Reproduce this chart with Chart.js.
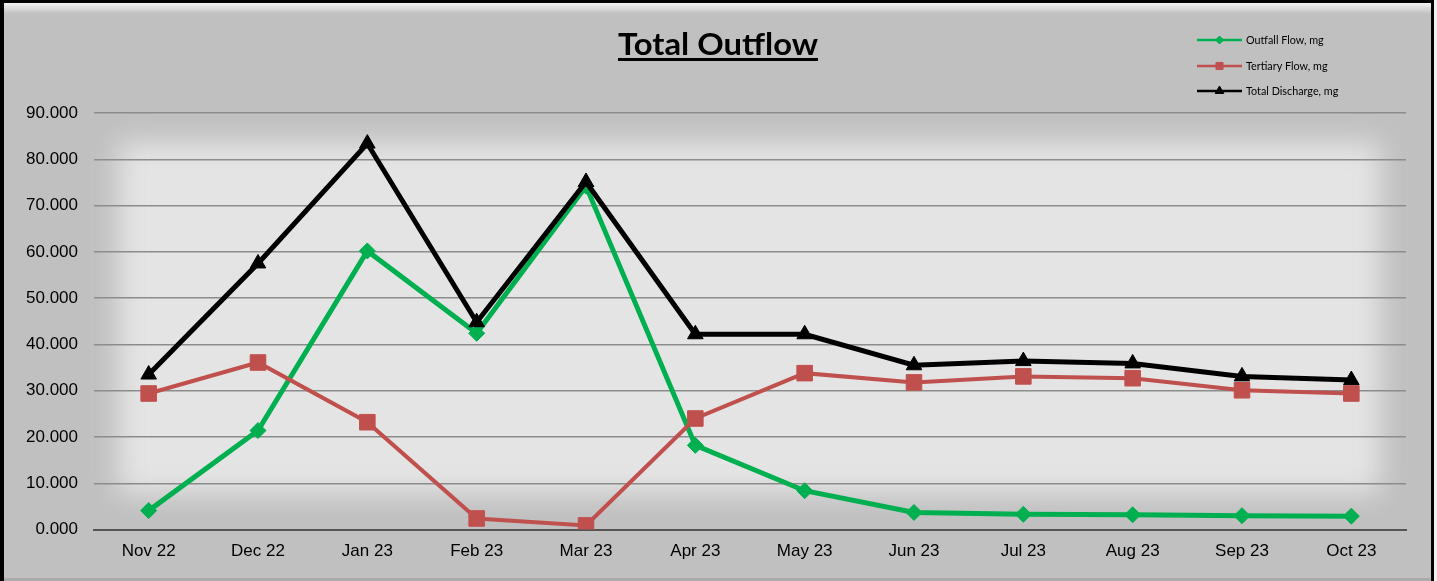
<!DOCTYPE html>
<html>
<head>
<meta charset="utf-8">
<title>Total Outflow</title>
<script src="https://cdn.jsdelivr.net/npm/chart.js@4/dist/chart.umd.min.js"></script>
<style>
  html, body { margin: 0; padding: 0; background: #c0c0c0; }
  #wrap { width: 1437px; height: 581px; position: relative; }
</style>
</head>
<body>
<div id="wrap"><canvas id="outflow-chart" width="1437" height="581"></canvas></div>
<script>
const months = ['Nov 22', 'Dec 22', 'Jan 23', 'Feb 23', 'Mar 23', 'Apr 23',
  'May 23', 'Jun 23', 'Jul 23', 'Aug 23', 'Sep 23', 'Oct 23'];
const outfallFlow = [4.1, 21.4, 60.2, 42.4, 74.2, 18.2, 8.4, 3.7, 3.3, 3.2, 3.0, 2.9];
const tertiaryFlow = [29.4, 36.1, 23.2, 2.4, 0.9, 24.0, 33.8, 31.8, 33.1, 32.7, 30.1, 29.4];
const totalDischarge = [33.5, 57.5, 83.4, 44.8, 75.1, 42.2, 42.2, 35.5, 36.4, 35.9, 33.1, 32.3];
const seriesNames = ['Outfall Flow, mg', 'Tertiary Flow, mg', 'Total Discharge, mg'];
const yTicks = [0, 10, 20, 30, 40, 50, 60, 70, 80, 90];

const GREEN = '#00b050';
const RED = '#c0504d';
const BLACK = '#000000';

// panel: grey frame, soft light plot backdrop, black edges
const panelBackground = {
  id: 'panelBackground',
  beforeDraw(chart) {
    const { ctx, width, height } = chart;
    ctx.save();
    ctx.fillStyle = '#c0c0c0';
    ctx.fillRect(0, 0, width, height);

    ctx.filter = 'blur(14px)';
    ctx.fillStyle = '#e4e4e4';
    ctx.fillRect(118, 142, 1262, 352);
    ctx.filter = 'none';

    const top = ctx.createLinearGradient(0, 3, 0, 14);
    top.addColorStop(0, 'rgba(255,255,255,0.8)');
    top.addColorStop(1, 'rgba(255,255,255,0)');
    ctx.fillStyle = top;
    ctx.fillRect(0, 3, width, 11);

    ctx.fillStyle = '#000';
    ctx.fillRect(0, 0, width, 3);
    ctx.fillRect(0, 0, 4, height);
    ctx.fillRect(1431, 0, 3, height);
    ctx.fillStyle = '#f0f0f0';
    ctx.fillRect(1434, 0, 3, height);
    ctx.fillStyle = '#ababab';
    ctx.fillRect(4, 578, 1427, 3);
    ctx.restore();
  }
};

// underlined title and a stacked legend in the top right corner
const titleAndLegend = {
  id: 'titleAndLegend',
  afterDraw(chart) {
    const { ctx } = chart;
    ctx.save();
    ctx.fillStyle = '#000';
    ctx.font = 'bold 30px Lato';
    ctx.textAlign = 'center';
    ctx.textBaseline = 'alphabetic';
    const title = 'Total Outflow';
    const w = ctx.measureText(title).width;
    ctx.translate(718, 55);
    ctx.scale(200 / w, 1);
    ctx.fillText(title, 0, 0);
    ctx.restore();
    ctx.fillStyle = '#000';
    ctx.fillRect(618, 58, 200, 3);

    ctx.save();
    ctx.font = '10.8px Lato';
    ctx.textBaseline = 'middle';
    ctx.textAlign = 'left';
    const rows = [40, 66, 91];
    chart.data.datasets.forEach((ds) => {
      const y = rows[ds.legendRow];
      ctx.strokeStyle = ds.borderColor;
      ctx.lineWidth = 2.5;
      ctx.beginPath();
      ctx.moveTo(1197, y);
      ctx.lineTo(1242, y);
      ctx.stroke();
      ctx.fillStyle = ds.pointBackgroundColor;
      ctx.strokeStyle = ds.pointBorderColor;
      ctx.lineWidth = 1;
      Chart.helpers.drawPoint(ctx, {
        pointStyle: ds.pointStyle,
        radius: ds.legendRadius,
        borderWidth: 1,
        rotation: 0
      }, 1219.5, y);
      ctx.fillStyle = '#000';
      ctx.fillText(ds.label, 1246, y + 0.5);
    });
    ctx.restore();
  }
};

const ctx = document.getElementById('outflow-chart').getContext('2d');
new Chart(ctx, {
  type: 'line',
  data: {
    labels: months,
    datasets: [
      {
        label: seriesNames[0],
        data: outfallFlow,
        borderColor: GREEN,
        backgroundColor: GREEN,
        pointBackgroundColor: GREEN,
        pointBorderColor: GREEN,
        borderWidth: 5,
        pointStyle: 'rectRot',
        pointRadius: 8,
        pointBorderWidth: 1,
        legendRow: 0,
        legendRadius: 4,
        order: 2
      },
      {
        label: seriesNames[1],
        data: tertiaryFlow,
        borderColor: RED,
        backgroundColor: RED,
        pointBackgroundColor: RED,
        pointBorderColor: RED,
        borderWidth: 4,
        pointStyle: 'rect',
        pointRadius: 11,
        pointBorderWidth: 1,
        legendRow: 1,
        legendRadius: 5,
        order: 1
      },
      {
        label: seriesNames[2],
        data: totalDischarge,
        borderColor: BLACK,
        backgroundColor: BLACK,
        pointBackgroundColor: BLACK,
        pointBorderColor: BLACK,
        borderWidth: 5,
        pointStyle: 'triangle',
        pointRadius: 9,
        pointBorderWidth: 1,
        legendRow: 2,
        legendRadius: 5,
        order: 0
      }
    ]
  },
  options: {
    responsive: false,
    animation: false,
    layout: { padding: { left: 10, right: 31, top: 113, bottom: 7 } },
    plugins: {
      legend: { display: false },
      title: { display: false },
      tooltip: { enabled: false }
    },
    elements: { line: { tension: 0 } },
    scales: {
      x: {
        offset: true,
        grid: { display: false, drawTicks: false },
        border: { display: true, color: '#555', width: 2 },
        ticks: {
          color: '#000',
          padding: 12,
          font: { family: 'Liberation Sans', size: 17 }
        }
      },
      y: {
        min: yTicks[0],
        max: yTicks[yTicks.length - 1],
        afterBuildTicks(scale) {
          scale.ticks = yTicks.map((v) => ({ value: v }));
        },
        grid: {
          drawTicks: false,
          color: (c) => (c.tick && c.tick.value === 0 ? '#555' : '#8c8c8c'),
          lineWidth: (c) => (c.tick && c.tick.value === 0 ? 2 : 1.5)
        },
        border: { display: false },
        ticks: {
          color: '#000',
          padding: 16,
          font: { family: 'Liberation Sans', size: 17 },
          callback: (v) => Number(v).toFixed(3)
        }
      }
    }
  },
  plugins: [panelBackground, titleAndLegend]
});
</script>
</body>
</html>
